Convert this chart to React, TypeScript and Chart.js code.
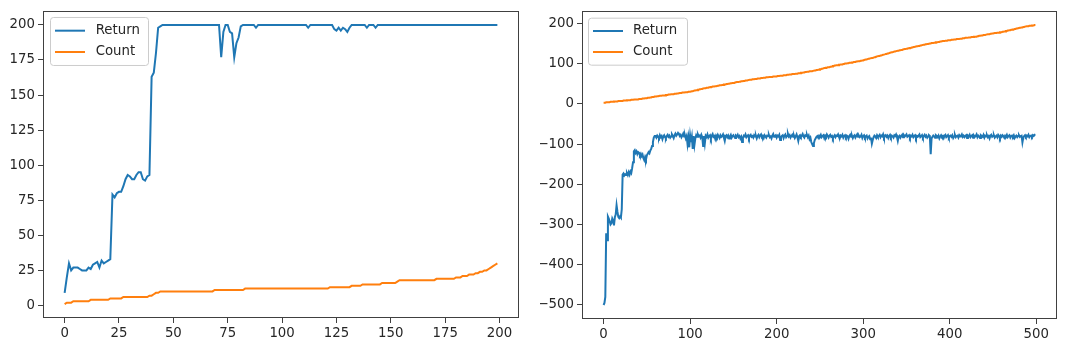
import React, { useEffect, useRef } from "react";
import { Chart, registerables } from "chart.js";

Chart.register(...registerables);

const SERIES_NAMES = ["Return", "Count"];
const SERIES_COLORS = ["#1f77b4", "#ff7f0e"];

// ---- Left panel (200 episodes) ----
const L_RETURN = [
  9, 20, 30, 25, 27, 27, 27, 26, 25, 25,
  25, 27, 26, 29, 30, 31, 27, 32, 30, 31,
  32, 33, 79, 77, 80, 81, 81, 85, 90, 93,
  92, 90, 90, 93, 95, 95, 90, 89, 92, 93,
  163, 166, 180, 198, 199, 200, 200, 200, 200, 200,
  200, 200, 200, 200, 200, 200, 200, 200, 200, 200,
  200, 200, 200, 200, 200, 200, 200, 200, 200, 200,
  200, 200, 177, 195, 200, 200, 195, 194, 177, 187,
  191, 199, 200, 200, 200, 200, 200, 200, 198, 200,
  200, 200, 200, 200, 200, 200, 200, 200, 200, 200,
  200, 200, 200, 200, 200, 200, 200, 200, 200, 200,
  200, 200, 198, 200, 200, 200, 200, 200, 200, 200,
  200, 200, 200, 200, 197, 196, 198, 196, 198, 197,
  195, 198, 200, 200, 200, 200, 200, 200, 200, 198,
  200, 200, 200, 198, 200, 200, 200, 200, 200, 200,
  200, 200, 200, 200, 200, 200, 200, 200, 200, 200,
  200, 200, 200, 200, 200, 200, 200, 200, 200, 200,
  200, 200, 200, 200, 200, 200, 200, 200, 200, 200,
  200, 200, 200, 200, 200, 200, 200, 200, 200, 200,
  200, 200, 200, 200, 200, 200, 200, 200, 200, 200,
];

const L_COUNT = [
  1, 2, 2, 2, 3, 3, 3, 3, 3, 3,
  3, 3, 4, 4, 4, 4, 4, 4, 4, 4,
  4, 5, 5, 5, 5, 5, 5, 6, 6, 6,
  6, 6, 6, 6, 6, 6, 6, 6, 6, 7,
  7, 8, 9, 9, 10, 10, 10, 10, 10, 10,
  10, 10, 10, 10, 10, 10, 10, 10, 10, 10,
  10, 10, 10, 10, 10, 10, 10, 10, 10, 11,
  11, 11, 11, 11, 11, 11, 11, 11, 11, 11,
  11, 11, 11, 12, 12, 12, 12, 12, 12, 12,
  12, 12, 12, 12, 12, 12, 12, 12, 12, 12,
  12, 12, 12, 12, 12, 12, 12, 12, 12, 12,
  12, 12, 12, 12, 12, 12, 12, 12, 12, 12,
  12, 12, 13, 13, 13, 13, 13, 13, 13, 13,
  13, 13, 14, 14, 14, 14, 14, 15, 15, 15,
  15, 15, 15, 15, 15, 15, 16, 16, 16, 16,
  16, 16, 16, 17, 18, 18, 18, 18, 18, 18,
  18, 18, 18, 18, 18, 18, 18, 18, 18, 18,
  18, 19, 19, 19, 19, 19, 19, 19, 19, 19,
  20, 20, 20, 21, 21, 21, 22, 22, 22, 23,
  23, 24, 24, 25, 25, 26, 27, 28, 29, 30,
];

// ---- Right panel (500 episodes) ----
const R_RETURN = [
  -500, -495, -480, -322, -339, -280, -285, -292, -300, -297,
  -285, -290, -302, -282, -275, -252, -268, -281, -284, -280,
  -283, -262, -176, -173, -178, -175, -177, -172, -177, -170,
  -176, -168, -172, -160, -145, -118, -115, -122, -118, -125,
  -120, -122, -128, -124, -130, -126, -135, -140, -132, -138,
  -128, -124, -120, -123, -116, -112, -105, -95, -84, -80,
  -80, -84, -79, -82, -85, -78, -83, -80, -88, -81,
  -78, -83, -86, -80, -77, -82, -79, -84, -81, -76,
  -80, -85, -78, -74, -79, -76, -72, -75, -80, -77,
  -83, -79, -74, -81, -78, -86, -80, -100, -84, -108,
  -79, -95, -82, -112, -80, -102, -86, -78, -82, -76,
  -81, -79, -84, -77, -83, -105, -80, -98, -79, -82,
  -76, -84, -80, -78, -86, -79, -75, -82, -80, -87,
  -79, -83, -77, -81, -85, -78, -82, -80, -76, -84,
  -92, -80, -78, -83, -79, -86, -81, -77, -84, -80,
  -78, -82, -85, -79, -81, -77, -83, -80, -86, -82,
  -95, -84, -79, -81, -76, -83, -80, -78, -85, -79,
  -77, -82, -80, -84, -78, -81, -79, -86, -80, -77,
  -83, -79, -76, -82, -80, -85, -78, -81, -84, -79,
  -80, -77, -83, -81, -86, -79, -75, -82, -80, -78,
  -84, -79, -81, -77, -90, -82, -80, -78, -85, -79,
  -76, -83, -80, -74, -81, -78, -84, -80, -77, -82,
  -79, -85, -81, -76, -83, -92, -80, -78, -82, -79,
  -75, -81, -84, -78, -80, -77, -83, -79, -88, -84,
  -95, -100, -105, -98, -90, -86, -82, -80, -84, -79,
  -81, -77, -83, -80, -78, -85, -79, -82, -76, -80,
  -84, -79, -77, -82, -80, -86, -81, -78, -83, -79,
  -80, -76, -82, -85, -79, -81, -77, -84, -80, -78,
  -83, -79, -81, -87, -80, -77, -82, -79, -85, -80,
  -78, -84, -80, -76, -82, -79, -83, -81, -77, -85,
  -80, -78, -84, -81, -79, -86, -82, -80, -88, -84,
  -99, -90, -83, -79, -81, -85, -78, -82, -80, -77,
  -83, -79, -81, -76, -84, -80, -78, -82, -79, -85,
  -80, -77, -83, -79, -81, -84, -78, -80, -76, -82,
  -92, -81, -79, -84, -80, -77, -83, -78, -81, -79,
  -76, -82, -80, -78, -84, -79, -81, -77, -83, -80,
  -78, -85, -80, -82, -79, -76, -83, -81, -78, -84,
  -80, -77, -82, -79, -84, -81, -78, -80, -125, -86,
  -82, -79, -81, -84, -78, -80, -83, -79, -86, -81,
  -78, -82, -80, -85, -79, -77, -83, -81, -78, -84,
  -80, -79, -82, -78, -85, -81, -77, -83, -80, -79,
  -84, -78, -81, -80, -76, -82, -79, -83, -80, -78,
  -85, -79, -81, -77, -83, -80, -78, -84, -79, -82,
  -80, -76, -83, -79, -81, -85, -78, -80, -82, -77,
  -84, -79, -81, -78, -83, -80, -86, -79, -77, -82,
  -80, -78, -84, -81, -79, -83, -77, -80, -85, -79,
  -82, -78, -80, -84, -79, -81, -77, -83, -80, -78,
  -84, -80, -79, -82, -78, -85, -81, -79, -83, -80,
  -78, -82, -80, -79, -96, -84, -80, -78, -82, -79,
  -81, -77, -83, -80, -79, -82, -78, -80, -77, -76,
];

const R_COUNT = [
  3, 3, 3, 4, 4, 4, 4, 4, 5, 5,
  5, 5, 6, 6, 6, 6, 6, 7, 7, 7,
  7, 7, 7, 8, 8, 8, 8, 9, 9, 9,
  9, 9, 10, 10, 10, 10, 11, 11, 11, 11,
  11, 12, 12, 12, 12, 13, 13, 13, 14, 14,
  14, 15, 15, 15, 16, 16, 17, 17, 17, 18,
  18, 18, 19, 19, 19, 20, 20, 20, 21, 21,
  21, 21, 22, 22, 22, 23, 23, 23, 24, 24,
  24, 24, 25, 25, 25, 26, 26, 26, 27, 27,
  27, 28, 28, 28, 28, 29, 29, 29, 30, 30,
  30, 30, 31, 31, 32, 33, 33, 34, 34, 35,
  35, 36, 36, 37, 37, 38, 38, 39, 39, 40,
  40, 40, 41, 41, 42, 42, 43, 43, 43, 44,
  44, 44, 45, 45, 46, 46, 46, 47, 47, 48,
  48, 48, 49, 49, 50, 50, 50, 51, 51, 52,
  52, 52, 53, 53, 54, 54, 54, 55, 55, 56,
  56, 56, 57, 57, 58, 58, 58, 59, 59, 60,
  60, 60, 61, 61, 61, 62, 62, 62, 63, 63,
  63, 63, 64, 64, 64, 65, 65, 65, 66, 66,
  66, 66, 67, 67, 67, 67, 68, 68, 68, 68,
  68, 69, 69, 69, 70, 70, 70, 70, 71, 71,
  71, 71, 72, 72, 72, 73, 73, 73, 74, 74,
  74, 74, 75, 75, 75, 76, 76, 76, 77, 77,
  77, 78, 78, 79, 79, 79, 80, 80, 81, 81,
  81, 81, 82, 82, 83, 83, 84, 84, 85, 85,
  86, 86, 87, 87, 88, 89, 89, 90, 90, 91,
  91, 91, 92, 92, 93, 94, 94, 95, 95, 96,
  96, 96, 97, 97, 98, 98, 98, 99, 99, 100,
  100, 100, 101, 101, 102, 102, 102, 103, 103, 104,
  104, 104, 105, 105, 106, 106, 106, 107, 107, 108,
  108, 109, 109, 110, 110, 111, 112, 112, 113, 113,
  114, 114, 115, 116, 116, 117, 118, 118, 119, 119,
  120, 120, 121, 122, 122, 123, 124, 124, 125, 125,
  126, 127, 127, 128, 128, 129, 130, 130, 131, 131,
  132, 132, 133, 133, 134, 134, 135, 135, 136, 136,
  137, 137, 138, 138, 139, 139, 140, 140, 141, 141,
  142, 142, 143, 143, 144, 144, 145, 145, 146, 146,
  147, 147, 148, 148, 149, 149, 149, 150, 150, 151,
  151, 151, 152, 152, 153, 153, 153, 154, 154, 155,
  155, 155, 156, 156, 156, 157, 157, 157, 158, 158,
  158, 158, 159, 159, 159, 160, 160, 160, 161, 161,
  161, 161, 162, 162, 162, 163, 163, 163, 164, 164,
  164, 164, 165, 165, 165, 166, 166, 166, 167, 167,
  167, 167, 168, 168, 169, 169, 169, 170, 170, 171,
  171, 171, 172, 172, 173, 173, 173, 174, 174, 175,
  175, 175, 176, 176, 176, 177, 177, 177, 178, 178,
  178, 179, 179, 180, 180, 181, 181, 182, 182, 183,
  183, 184, 184, 185, 185, 186, 186, 187, 187, 188,
  188, 189, 189, 190, 190, 191, 191, 192, 192, 193,
  193, 193, 194, 194, 194, 195, 195, 195, 196, 196,
];

const L_X_TICKS = [0, 25, 50, 75, 100, 125, 150, 175, 200];
const L_Y_TICKS = [0, 25, 50, 75, 100, 125, 150, 175, 200];
const R_X_TICKS = [0, 100, 200, 300, 400, 500];
const R_Y_TICKS = [-500, -400, -300, -200, -100, 0, 100, 200];

const FONT_FAMILY = "'DejaVu Sans', 'Liberation Sans', sans-serif";
const FONT_SIZE = 13.3;
const TEXT_COLOR = "#262626";
const AXIS_COLOR = "#404040";

const fmt = (v: number) => (v < 0 ? "\u2212" + Math.abs(v) : String(v));

const framePlugin = {
  id: "mplFrame",
  afterDatasetsDraw(chart: any) {
    const { ctx, chartArea } = chart;
    ctx.save();
    ctx.strokeStyle = AXIS_COLOR;
    ctx.lineWidth = 1;
    ctx.strokeRect(
      Math.round(chartArea.left) + 0.5,
      Math.round(chartArea.top) + 0.5,
      Math.round(chartArea.right - chartArea.left) - 1,
      Math.round(chartArea.bottom - chartArea.top) - 1
    );
    ctx.restore();
  },
};

const legendPlugin = {
  id: "mplLegend",
  afterDraw(chart: any, _args: any, opts: any) {
    const { ctx, chartArea } = chart;
    const x = chartArea.left + opts.dx;
    const y = chartArea.top + opts.dy;
    ctx.save();
    ctx.beginPath();
    ctx.roundRect(x + 0.5, y + 0.5, opts.w, opts.h, 3);
    ctx.fillStyle = "rgba(255,255,255,0.8)";
    ctx.fill();
    ctx.strokeStyle = "#cccccc";
    ctx.lineWidth = 1;
    ctx.stroke();
    chart.data.datasets.forEach((ds: any, i: number) => {
      const ry = y + opts.row0 + i * opts.rowGap;
      ctx.beginPath();
      ctx.moveTo(x + 5, ry);
      ctx.lineTo(x + 35, ry);
      ctx.strokeStyle = ds.borderColor;
      ctx.lineWidth = 2;
      ctx.stroke();
      ctx.fillStyle = TEXT_COLOR;
      ctx.font = `${FONT_SIZE}px ${FONT_FAMILY}`;
      ctx.textBaseline = "middle";
      ctx.textAlign = "left";
      ctx.fillText(ds.label, x + opts.textX, ry);
    });
    ctx.restore();
  },
};

type PanelCfg = {
  ret: number[];
  count: number[];
  xMin: number;
  xMax: number;
  yMin: number;
  yMax: number;
  xTicks: number[];
  yTicks: number[];
  padTop: number;
  padRight: number;
  yAxisWidth: number;
  xAxisHeight: number;
  legend: any;
};

function buildChart(canvas: HTMLCanvasElement, p: PanelCfg) {
  const series = [p.ret, p.count];
  const tickFont = { family: FONT_FAMILY, size: FONT_SIZE };
  return new Chart(canvas, {
    type: "line",
    data: {
      datasets: series.map((arr, k) => ({
        label: SERIES_NAMES[k],
        data: arr.map((v, i) => ({ x: i, y: v })),
        borderColor: SERIES_COLORS[k],
        backgroundColor: SERIES_COLORS[k],
        borderWidth: 2,
        pointRadius: 0,
        tension: 0,
        fill: false,
        order: k === 0 ? 1 : 0,
      })),
    },
    options: {
      responsive: false,
      animation: false,
      devicePixelRatio: 1,
      layout: {
        autoPadding: false,
        padding: { top: p.padTop, right: p.padRight, left: 0, bottom: 0 },
      },
      plugins: {
        legend: { display: false },
        tooltip: { enabled: false },
        mplLegend: p.legend,
      } as any,
      scales: {
        x: {
          type: "linear",
          min: p.xMin,
          max: p.xMax,
          afterBuildTicks: (s: any) => {
            s.ticks = p.xTicks.map((v) => ({ value: v }));
          },
          afterFit: (s: any) => {
            s.height = p.xAxisHeight;
          },
          ticks: {
            font: tickFont,
            color: TEXT_COLOR,
            padding: 3,
            maxRotation: 0,
            autoSkip: false,
            callback: (v: any) => fmt(Number(v)),
          },
          grid: {
            display: true,
            drawOnChartArea: false,
            drawTicks: true,
            tickLength: 5,
            color: AXIS_COLOR,
            lineWidth: 1,
          },
          border: { display: false },
        },
        y: {
          type: "linear",
          min: p.yMin,
          max: p.yMax,
          afterBuildTicks: (s: any) => {
            s.ticks = p.yTicks.map((v) => ({ value: v }));
          },
          afterFit: (s: any) => {
            s.width = p.yAxisWidth;
          },
          ticks: {
            font: tickFont,
            color: TEXT_COLOR,
            padding: 3,
            autoSkip: false,
            callback: (v: any) => fmt(Number(v)),
          },
          grid: {
            display: true,
            drawOnChartArea: false,
            drawTicks: true,
            tickLength: 5,
            color: AXIS_COLOR,
            lineWidth: 1,
          },
          border: { display: false },
        },
      },
    } as any,
    plugins: [framePlugin, legendPlugin],
  });
}

export default function App() {
  const leftRef = useRef<HTMLCanvasElement>(null);
  const rightRef = useRef<HTMLCanvasElement>(null);

  useEffect(() => {
    document.body.style.margin = "0";
    const c1 = buildChart(leftRef.current!, {
      ret: L_RETURN,
      count: L_COUNT,
      xMin: -9.95,
      xMax: 208.95,
      yMin: -8.95,
      yMax: 209.95,
      xTicks: L_X_TICKS,
      yTicks: L_Y_TICKS,
      padTop: 8,
      padRight: 21,
      yAxisWidth: 43,
      xAxisHeight: 33,
      legend: { dx: 7, dy: 6, w: 98, h: 48, row0: 13.7, rowGap: 21.3, textX: 45.7 },
    });
    const c2 = buildChart(rightRef.current!, {
      ret: R_RETURN,
      count: R_COUNT,
      xMin: -24.95,
      xMax: 523.95,
      yMin: -534.8,
      yMax: 230.8,
      xTicks: R_X_TICKS,
      yTicks: R_Y_TICKS,
      padTop: 10,
      padRight: 23,
      yAxisWidth: 42,
      xAxisHeight: 32,
      legend: { dx: 6, dy: 6.7, w: 99, h: 47, row0: 13.3, rowGap: 21, textX: 45 },
    });
    return () => {
      c1.destroy();
      c2.destroy();
    };
  }, []);

  return (
    <div style={{ position: "relative", width: 1080, height: 351, background: "#fff" }}>
      <canvas
        ref={leftRef}
        width={540}
        height={351}
        style={{ position: "absolute", left: 0, top: 0, width: 540, height: 351 }}
      />
      <canvas
        ref={rightRef}
        width={540}
        height={351}
        style={{ position: "absolute", left: 540, top: 0, width: 540, height: 351 }}
      />
    </div>
  );
}
